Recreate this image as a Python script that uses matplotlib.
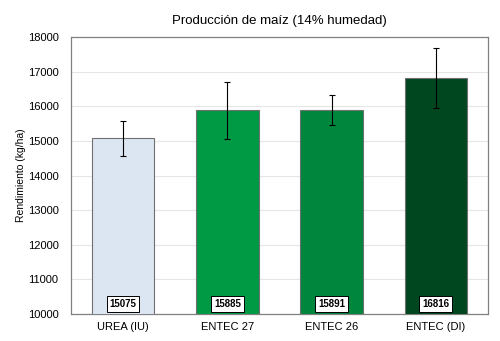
import matplotlib as mpl

mpl.use("Agg")
import matplotlib.pyplot as plt
import numpy as np

categories = ["UREA (IU)", "ENTEC 27", "ENTEC 26", "ENTEC (DI)"]
yields = [15075, 15885, 15891, 16816]
errors = [500, 830, 430, 875]
colors = ["#DCE6F2", "#009944", "#00873D", "#00461F"]

mpl.rcParams.update({"font.family": ["Liberation Sans", "DejaVu Sans"], "font.size": 8})

fig = plt.figure(figsize=(5.0, 3.41), dpi=100)
ax = fig.add_axes([0.142, 0.079, 0.834, 0.8125])

x = np.arange(len(categories))
ax.bar(x, yields, width=0.6, color=colors, edgecolor="#707070", linewidth=0.8, zorder=3)
ax.errorbar(x, yields, yerr=errors, fmt="none", ecolor="black", elinewidth=0.8,
            capsize=2.5, capthick=0.8, zorder=4)
for xi, v in zip(x, yields):
    ax.text(xi, 10290, f"{v}", ha="center", va="center", fontsize=7, fontweight="bold",
            bbox=dict(boxstyle="square,pad=0.3", fc="white", ec="black", lw=0.7), zorder=5)

ax.set_ylim(10000, 18000)
ax.set_xlim(-0.5, 3.5)
ax.set_yticks(np.arange(10000, 18001, 1000))
ax.set_xticks(x)
ax.set_xticklabels(categories)
ax.tick_params(length=0, labelsize=8)
ax.tick_params(axis="y", pad=9)
ax.tick_params(axis="x", pad=6)
ax.grid(True, axis="y", color="#E6E6E6", lw=0.8, zorder=0)
for sp in ax.spines.values():
    sp.set_color("#808080")
    sp.set_linewidth(0.9)
ax.set_ylabel("Rendimiento (kg/ha)", fontsize=7.5, labelpad=1)
ax.set_title("Producción de maíz (14% humedad)", fontsize=9.5, pad=9)

fig.savefig("out.png", dpi=100)
